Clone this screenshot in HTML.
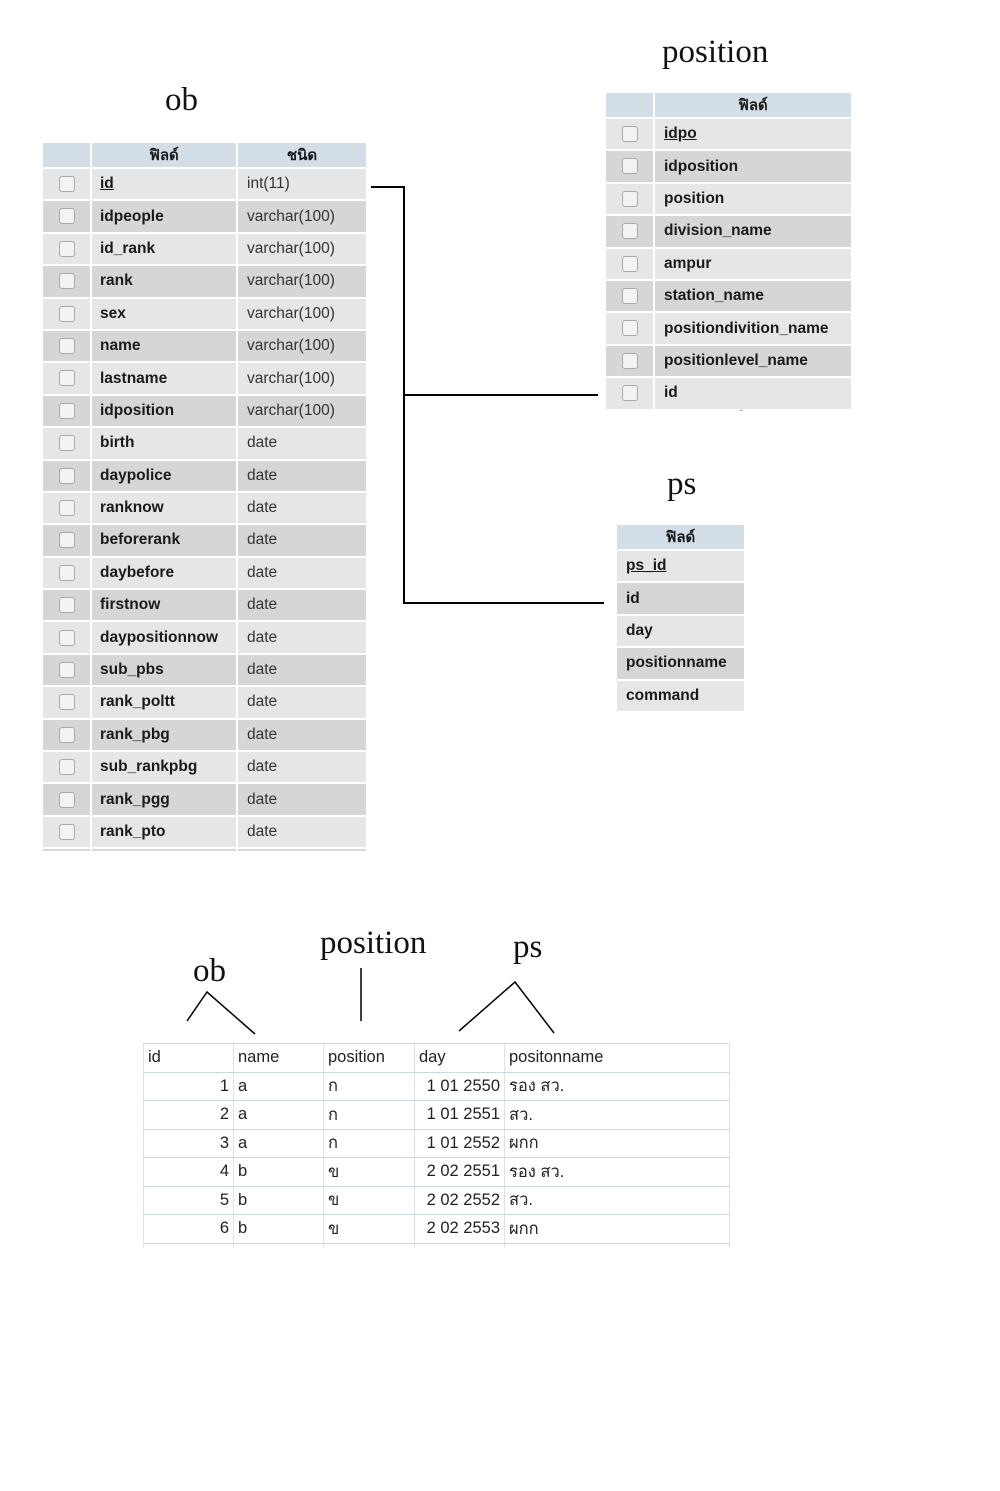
<!DOCTYPE html>
<html><head><meta charset="utf-8">
<style>
body{margin:0;width:1000px;height:1491px;background:#fff;position:relative;overflow:hidden;font-family:"Liberation Sans","Noto Sans CJK SC",sans-serif;}
.t{position:absolute;border-collapse:separate;border-spacing:2px;background:#fff;}
.t td{padding:0;font-size:15.5px;color:#1a1a1a;white-space:nowrap;}
.t tr.h td{height:24px;background:#d4dee7;text-align:center;font-weight:bold;font-size:15px;}
.t tr.a td{height:30.4px;background:#e6e6e6;}
.t tr.b td{height:30.4px;background:#d6d6d6;}
.t td.c{text-align:center;}
.t td.f{font-weight:bold;padding-left:8px;}
.t td.y{padding-left:9px;color:#333;}
.cb{display:inline-block;width:14px;height:14px;border:1px solid #a9a9a9;border-radius:3px;background:#f3f3f3;vertical-align:middle;}
.lbl{position:absolute;font-family:"Liberation Serif",serif;font-size:33px;color:#111;line-height:1;}
.ln{position:absolute;background:#000;}
.x{position:absolute;left:143px;top:1043px;border-collapse:collapse;font-size:16.5px;color:#222;}
.x td{height:27.5px;padding:0 4px;border-bottom:1px solid #cdd6e2;border-left:1px solid #dde2ea;white-space:nowrap;}
.x td.r{text-align:right;}
</style></head><body>

<div class="lbl" style="left:165px;top:84px;">ob</div>
<div class="lbl" style="left:662px;top:36px;">position</div>
<div class="lbl" style="left:667px;top:468px;">ps</div>

<table class="t" style="left:41px;top:141px;">
<tr class="h"><td style="width:47px"></td><td style="width:144px">ฟิลด์</td><td style="width:128px">ชนิด</td></tr>
<tr class="a"><td class="c"><span class="cb"></span></td><td class="f"><u>id</u></td><td class="y">int(11)</td></tr>
<tr class="b"><td class="c"><span class="cb"></span></td><td class="f">idpeople</td><td class="y">varchar(100)</td></tr>
<tr class="a"><td class="c"><span class="cb"></span></td><td class="f">id_rank</td><td class="y">varchar(100)</td></tr>
<tr class="b"><td class="c"><span class="cb"></span></td><td class="f">rank</td><td class="y">varchar(100)</td></tr>
<tr class="a"><td class="c"><span class="cb"></span></td><td class="f">sex</td><td class="y">varchar(100)</td></tr>
<tr class="b"><td class="c"><span class="cb"></span></td><td class="f">name</td><td class="y">varchar(100)</td></tr>
<tr class="a"><td class="c"><span class="cb"></span></td><td class="f">lastname</td><td class="y">varchar(100)</td></tr>
<tr class="b"><td class="c"><span class="cb"></span></td><td class="f">idposition</td><td class="y">varchar(100)</td></tr>
<tr class="a"><td class="c"><span class="cb"></span></td><td class="f">birth</td><td class="y">date</td></tr>
<tr class="b"><td class="c"><span class="cb"></span></td><td class="f">daypolice</td><td class="y">date</td></tr>
<tr class="a"><td class="c"><span class="cb"></span></td><td class="f">ranknow</td><td class="y">date</td></tr>
<tr class="b"><td class="c"><span class="cb"></span></td><td class="f">beforerank</td><td class="y">date</td></tr>
<tr class="a"><td class="c"><span class="cb"></span></td><td class="f">daybefore</td><td class="y">date</td></tr>
<tr class="b"><td class="c"><span class="cb"></span></td><td class="f">firstnow</td><td class="y">date</td></tr>
<tr class="a"><td class="c"><span class="cb"></span></td><td class="f">daypositionnow</td><td class="y">date</td></tr>
<tr class="b"><td class="c"><span class="cb"></span></td><td class="f">sub_pbs</td><td class="y">date</td></tr>
<tr class="a"><td class="c"><span class="cb"></span></td><td class="f">rank_poltt</td><td class="y">date</td></tr>
<tr class="b"><td class="c"><span class="cb"></span></td><td class="f">rank_pbg</td><td class="y">date</td></tr>
<tr class="a"><td class="c"><span class="cb"></span></td><td class="f">sub_rankpbg</td><td class="y">date</td></tr>
<tr class="b"><td class="c"><span class="cb"></span></td><td class="f">rank_pgg</td><td class="y">date</td></tr>
<tr class="a"><td class="c"><span class="cb"></span></td><td class="f">rank_pto</td><td class="y">date</td></tr>
<tr class="b"><td style="height:2px"></td><td style="height:2px"></td><td style="height:2px"></td></tr>
</table>

<table class="t" style="left:604px;top:91px;">
<tr class="h"><td style="width:47px"></td><td style="width:196px">ฟิลด์</td></tr>
<tr class="a"><td class="c"><span class="cb"></span></td><td class="f" style="padding-left:9px"><u>idpo</u></td></tr>
<tr class="b"><td class="c"><span class="cb"></span></td><td class="f" style="padding-left:9px">idposition</td></tr>
<tr class="a"><td class="c"><span class="cb"></span></td><td class="f" style="padding-left:9px">position</td></tr>
<tr class="b"><td class="c"><span class="cb"></span></td><td class="f" style="padding-left:9px">division_name</td></tr>
<tr class="a"><td class="c"><span class="cb"></span></td><td class="f" style="padding-left:9px">ampur</td></tr>
<tr class="b"><td class="c"><span class="cb"></span></td><td class="f" style="padding-left:9px">station_name</td></tr>
<tr class="a"><td class="c"><span class="cb"></span></td><td class="f" style="padding-left:9px">positiondivition_name</td></tr>
<tr class="b"><td class="c"><span class="cb"></span></td><td class="f" style="padding-left:9px">positionlevel_name</td></tr>
<tr class="a"><td class="c"><span class="cb"></span></td><td class="f" style="padding-left:9px">id</td></tr>
</table>
<div style="position:absolute;left:740px;top:409px;font-size:8px;color:#2244aa;">ˇ</div>

<table class="t" style="left:615px;top:523px;">
<tr class="h"><td style="width:127px">ฟิลด์</td></tr>
<tr class="a"><td class="f" style="padding-left:9px"><u>ps_id</u></td></tr>
<tr class="b"><td class="f" style="padding-left:9px">id</td></tr>
<tr class="a"><td class="f" style="padding-left:9px">day</td></tr>
<tr class="b"><td class="f" style="padding-left:9px">positionname</td></tr>
<tr class="a"><td class="f" style="padding-left:9px">command</td></tr>
</table>

<div class="ln" style="left:371px;top:186px;width:34px;height:2px;"></div>
<div class="ln" style="left:403px;top:186px;width:2px;height:418px;"></div>
<div class="ln" style="left:403px;top:394px;width:195px;height:2px;"></div>
<div class="ln" style="left:403px;top:602px;width:201px;height:2px;"></div>

<div class="lbl" style="left:320px;top:927px;">position</div>
<div class="lbl" style="left:193px;top:955px;">ob</div>
<div class="lbl" style="left:513px;top:931px;">ps</div>
<svg style="position:absolute;left:0;top:0" width="1000" height="1491">
<g stroke="#000" stroke-width="1.5" fill="none">
<polyline points="187,1021 207,992 255,1034"/>
<line x1="361" y1="968" x2="361" y2="1021"/>
<polyline points="459,1031 515,982 554,1033"/>
</g>
</svg>

<table class="x">
<tr><td style="width:81px;border-top:1px solid #cdd6e2">id</td><td style="width:81px;border-top:1px solid #cdd6e2">name</td><td style="width:82px;border-top:1px solid #cdd6e2">position</td><td style="width:81px;border-top:1px solid #cdd6e2">day</td><td style="width:216px;border-top:1px solid #cdd6e2;border-right:1px solid #dde2ea">positonname</td></tr>
<tr><td class="r">1</td><td>a</td><td>ก</td><td class="r">1 01 2550</td><td style="border-right:1px solid #dde2ea">รอง สว.</td></tr>
<tr><td class="r">2</td><td>a</td><td>ก</td><td class="r">1 01 2551</td><td style="border-right:1px solid #dde2ea">สว.</td></tr>
<tr><td class="r">3</td><td>a</td><td>ก</td><td class="r">1 01 2552</td><td style="border-right:1px solid #dde2ea">ผกก</td></tr>
<tr><td class="r">4</td><td>b</td><td>ข</td><td class="r">2 02 2551</td><td style="border-right:1px solid #dde2ea">รอง สว.</td></tr>
<tr><td class="r">5</td><td>b</td><td>ข</td><td class="r">2 02 2552</td><td style="border-right:1px solid #dde2ea">สว.</td></tr>
<tr><td class="r">6</td><td>b</td><td>ข</td><td class="r">2 02 2553</td><td style="border-right:1px solid #dde2ea">ผกก</td></tr>
<tr><td style="height:3px;border-bottom:none"></td><td style="height:3px;border-bottom:none"></td><td style="height:3px;border-bottom:none"></td><td style="height:3px;border-bottom:none"></td><td style="height:3px;border-bottom:none;border-right:1px solid #dde2ea"></td></tr>
</table>
</body></html>
